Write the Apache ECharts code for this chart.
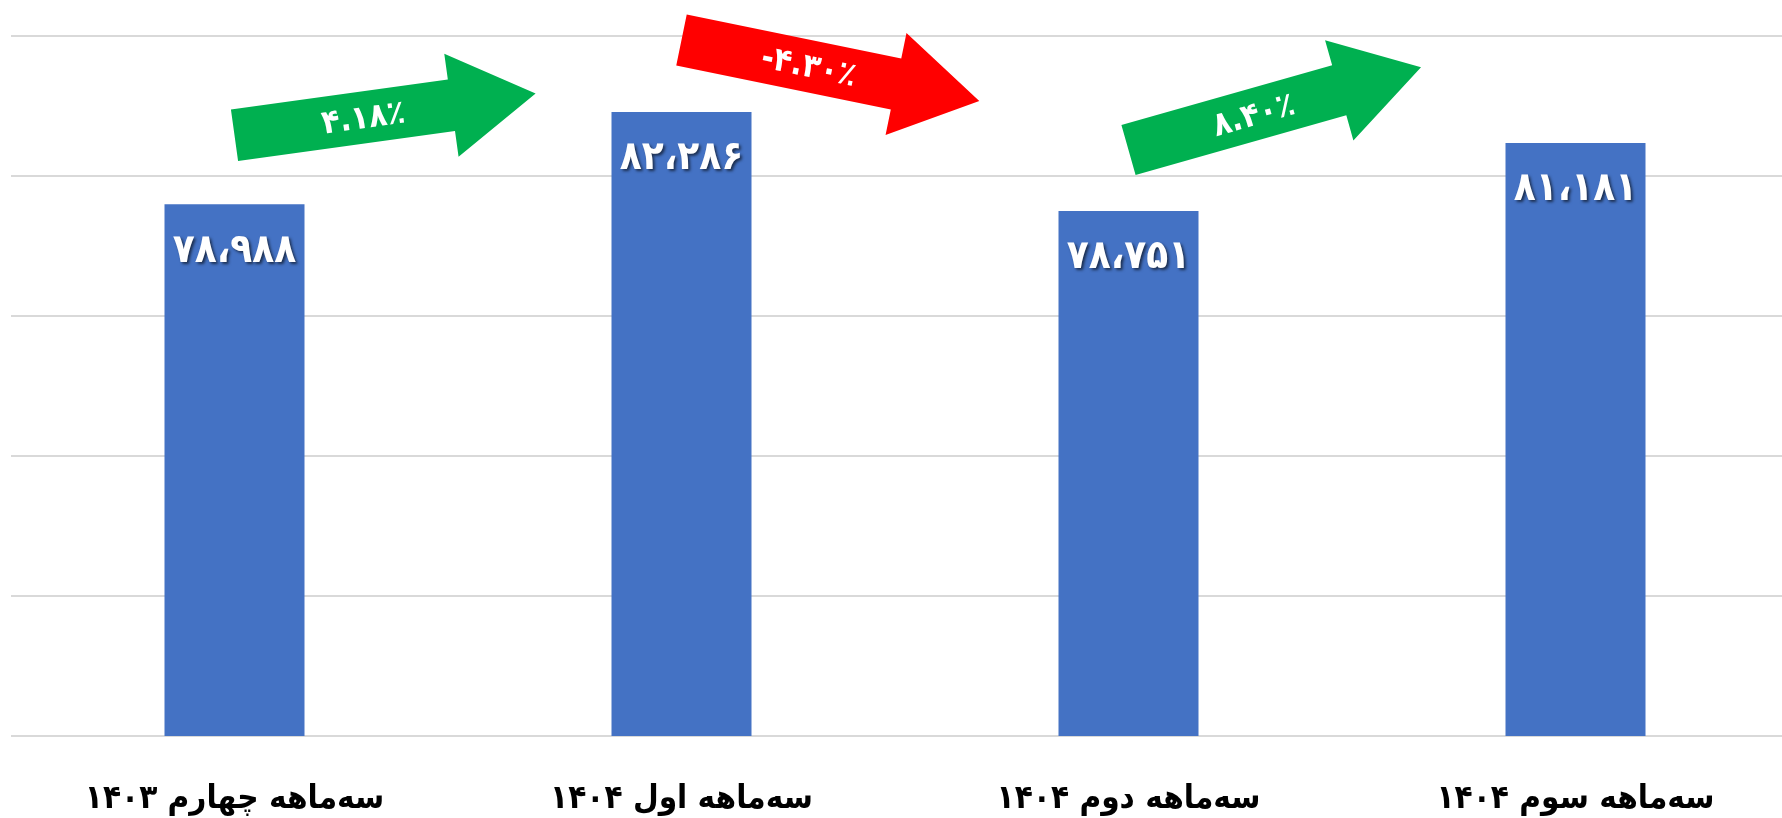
<!DOCTYPE html>
<html>
<head>
<meta charset="utf-8">
<script src="https://cdn.jsdelivr.net/npm/echarts@6/dist/echarts.min.js"></script>
<style>
  html, body { margin: 0; padding: 0; background: #fff; }
  #main { width: 1782px; height: 818px; }
</style>
</head>
<body>
<div id="main"></div>
<script>
// chart data
var categories = ['سه\u200cماهه چهارم ۱۴۰۳', 'سه\u200cماهه اول ۱۴۰۴', 'سه\u200cماهه دوم ۱۴۰۴', 'سه\u200cماهه سوم ۱۴۰۴'];
var values = [78988, 82286, 78751, 81181];
var changes = [4.18, -4.30, 8.40];   // percent change shown on the arrows
var yTicks = [60000, 65000, 70000, 75000, 80000, 85000];

// arrow placement (offset above bar top, tilt in degrees)
var arrowLayout = [
  { dy: -69, angle: 7.9 },
  { dy: -72, angle: -11.6 },
  { dy: -61, angle: 15.8 }
];

var FONT = '"DejaVu Sans Condensed", "DejaVu Sans", sans-serif';
var faDigits = '۰۱۲۳۴۵۶۷۸۹';

function toFa(s) {
  return String(s).replace(/\d/g, function (d) { return faDigits[d]; });
}
function fmtValue(v) {
  return toFa(String(v).replace(/\B(?=(\d{3})+(?!\d))/g, '،'));
}
function fmtChange(c) {
  return (c < 0 ? '-' : '') + toFa(Math.abs(c).toFixed(2)) + '٪';
}

var chart = echarts.init(document.getElementById('main'));

var option = {
  animation: false,
  grid: { left: 11, top: 36, width: 1788, bottom: 82, outerBoundsMode: 'none', containLabel: false },
  xAxis: {
    type: 'category',
    data: categories,
    axisLine: { show: false },
    axisTick: { show: false },
    axisLabel: {
      color: '#000',
      fontFamily: FONT,
      fontWeight: 'bold',
      fontSize: 33,
      margin: 47
    }
  },
  yAxis: {
    type: 'value',
    min: yTicks[0],
    max: yTicks[yTicks.length - 1],
    interval: yTicks[1] - yTicks[0],
    axisLabel: { show: false },
    axisLine: { show: false },
    axisTick: { show: false },
    splitLine: { lineStyle: { color: '#D9D9D9', width: 2 } }
  },
  series: [{
    type: 'bar',
    data: values,
    barWidth: 140,
    itemStyle: { color: '#4472C4' },
    label: {
      show: true,
      position: 'insideTop',
      distance: 27,
      color: '#fff',
      fontFamily: FONT,
      fontWeight: 'bold',
      fontSize: 40,
      textShadowColor: 'rgba(0,0,0,0.6)',
      textShadowBlur: 3,
      textShadowOffsetX: 2,
      textShadowOffsetY: 2,
      formatter: function (p) { return fmtValue(p.value); }
    }
  }]
};
chart.setOption(option);

// arrows between bars
var L = 304, SHAFT = 219, HALF_W = 26, HALF_HEAD = 52;
var graphics = changes.map(function (c, i) {
  var p = chart.convertToPixel({ xAxisIndex: 0, yAxisIndex: 0 }, [i, values[i]]);
  var lay = arrowLayout[i];
  return {
    type: 'group',
    x: p[0],
    y: p[1] + lay.dy,
    rotation: lay.angle * Math.PI / 180,
    z: 100,
    children: [{
      type: 'polygon',
      shape: {
        points: [[0, -HALF_W], [SHAFT, -HALF_W], [SHAFT, -HALF_HEAD], [L, 0],
                 [SHAFT, HALF_HEAD], [SHAFT, HALF_W], [0, HALF_W]]
      },
      style: { fill: c < 0 ? '#FF0000' : '#00B050' }
    }, {
      type: 'text',
      x: 130,
      y: 2,
      style: {
        text: fmtChange(c),
        fill: '#fff',
        font: 'bold 33px ' + FONT,
        align: 'center',
        verticalAlign: 'middle',
        shadowColor: 'rgba(0,0,0,0.6)',
        shadowBlur: 3,
        shadowOffsetX: 2,
        shadowOffsetY: 2
      }
    }]
  };
});
chart.setOption({ graphic: graphics });
</script>
</body>
</html>
